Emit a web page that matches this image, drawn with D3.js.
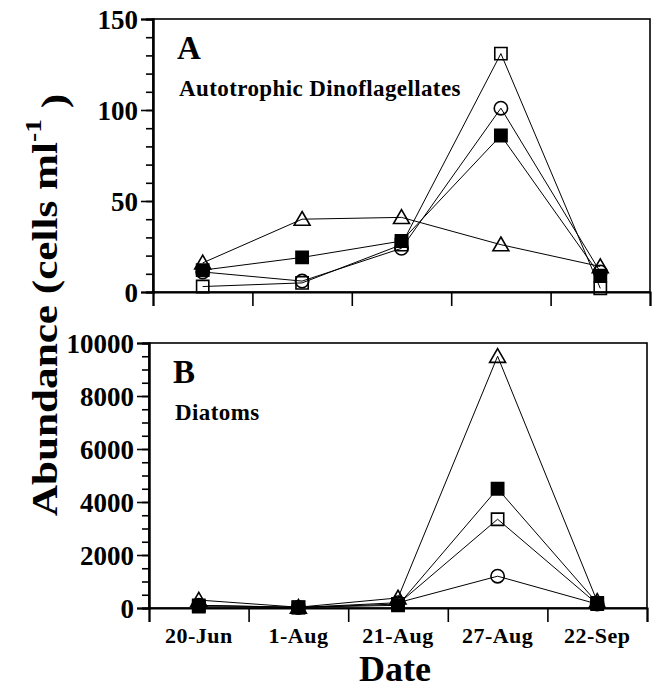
<!DOCTYPE html>
<meta charset="utf-8">
<script src="https://d3js.org/d3.v7.min.js"></script>
<style>
  body { margin: 0; background: #fff; }
  text { font-family: "Liberation Serif", "Times New Roman", serif; font-weight: bold; fill: #000; }
</style>
<div id="my_dataviz"></div>
<script>

// sampling dates
var dates = ["20-Jun", "1-Aug", "21-Aug", "27-Aug", "22-Sep"];

// A: autotrophic dinoflagellates (cells ml-1)
var dinoTriangle   = [16, 40, 41, 26, 14];
var dinoFilledSq   = [12, 19, 28, 86, 9];
var dinoCircle     = [11, 6, 24, 101, 11];
var dinoOpenSq     = [3, 5, 26, 131, 2];

// B: diatoms (cells ml-1)
var diaTriangle    = [300, 30, 380, 9500, 250];
var diaFilledSq    = [100, 30, 100, 4500, 190];
var diaCircle      = [100, 20, 200, 1200, 150];
var diaOpenSq      = [50, 20, 150, 3350, 150];

// tick values
var ticksA = [0, 50, 100, 150];
var minorA = d3.range(0, 151, 10);
var ticksB = [0, 2000, 4000, 6000, 8000, 10000];
var minorB = d3.range(0, 10001, 500);

var svg = d3.select("#my_dataviz")
  .append("svg")
    .attr("width", 658)
    .attr("height", 688);

// one panel = frame, axes, four series
function panel(p) {
  var x = d3.scaleBand().domain(dates).range([p.left, p.right]);
  var xb = d3.scaleLinear().domain([0, dates.length]).range([p.left, p.right]);
  var y = d3.scaleLinear().domain([0, p.max]).range([p.bottom, p.top]);

  var g = svg.append("g");

  // frame
  g.append("rect")
    .attr("x", p.left).attr("y", p.top)
    .attr("width", p.right - p.left).attr("height", p.bottom - p.top)
    .attr("fill", "none").attr("stroke", "#000").attr("stroke-width", 1.6);

  // y axis: major + minor ticks
  var ya = g.append("g")
    .attr("transform", "translate(" + p.left + ",0)")
    .call(d3.axisLeft(y).tickValues(p.ticks).tickSize(12).tickPadding(3).tickFormat(d3.format("d")));
  ya.selectAll("text").style("font-size", "27px").attr("dy", "0.36em");
  g.append("g")
    .attr("transform", "translate(" + p.left + ",0)")
    .call(d3.axisLeft(y).tickValues(p.minor).tickSize(7).tickFormat(""));

  // x axis: ticks on band boundaries
  g.append("g")
    .attr("transform", "translate(0," + p.bottom + ")")
    .call(d3.axisBottom(xb).ticks(dates.length).tickSize(14).tickFormat(""));

  if (p.labels) {
    var xa = g.append("g")
      .attr("transform", "translate(0," + p.bottom + ")")
      .call(d3.axisBottom(x).tickSize(0).tickPadding(19));
    xa.select(".domain").remove();
    xa.selectAll("text").style("font-size", "22px").style("letter-spacing", "0.5px");
  }

  g.selectAll(".domain").attr("stroke-width", 2);
  g.selectAll(".tick line").attr("stroke-width", 1.6);

  // panel letter and name
  g.append("text").attr("x", p.left + 24).attr("y", p.top + 40)
    .style("font-size", "33px").text(p.letter);
  g.append("text").attr("x", p.left + 26).attr("y", p.top + 77)
    .style("font-size", "23px").style("letter-spacing", "0.4px").text(p.name);

  var line = d3.line()
    .x(function(d, i) { return x(dates[i]) + x.bandwidth() / 2; })
    .y(function(d) { return y(d); });

  p.series.forEach(function(s) {
    g.append("path")
      .datum(s.values)
      .attr("fill", "none")
      .attr("stroke", "#000")
      .attr("stroke-width", 1)
      .attr("d", line);
  });

  p.series.forEach(function(s) {
    var sym = s.shape === "circle" ? d3.symbolCircle
            : s.shape === "triangle" ? d3.symbolTriangle : d3.symbolSquare;
    var size = s.shape === "circle" ? 140 : s.shape === "triangle" ? 110 : 150;
    g.selectAll(null)
      .data(s.values)
      .enter()
      .append("path")
        .attr("transform", function(d, i) {
          var dy = s.shape === "triangle" ? 1.5 : 0;
          return "translate(" + (x(dates[i]) + x.bandwidth() / 2) + "," + (y(d) + dy) + ")";
        })
        .attr("d", d3.symbol().type(sym).size(size))
        .attr("fill", s.filled ? "#000" : "none")
        .attr("stroke", "#000")
        .attr("stroke-width", 1.6);
  });
}

panel({
  left: 153, right: 650, top: 19, bottom: 292, max: 150,
  ticks: ticksA, minor: minorA, labels: false,
  letter: "A", name: "Autotrophic Dinoflagellates",
  series: [
    {values: dinoTriangle, shape: "triangle", filled: false},
    {values: dinoCircle, shape: "circle", filled: false},
    {values: dinoFilledSq, shape: "square", filled: true},
    {values: dinoOpenSq, shape: "square", filled: false}
  ]
});

panel({
  left: 149, right: 647, top: 343, bottom: 608, max: 10000,
  ticks: ticksB, minor: minorB, labels: true,
  letter: "B", name: "Diatoms",
  series: [
    {values: diaTriangle, shape: "triangle", filled: false},
    {values: diaCircle, shape: "circle", filled: false},
    {values: diaOpenSq, shape: "square", filled: false},
    {values: diaFilledSq, shape: "square", filled: true}
  ]
});

// axis titles
svg.append("text")
  .attr("x", 395).attr("y", 681)
  .attr("text-anchor", "middle")
  .style("font-size", "36px")
  .text("Date");

// y title is drawn a bit stretched along its length, as in the scan
var yt = svg.append("text")
  .attr("transform", "translate(57,305) rotate(-90) scale(1.2,1)")
  .attr("text-anchor", "middle")
  .style("font-size", "36px");
yt.append("tspan").text("Abundance (cells ml");
yt.append("tspan").attr("dy", "-0.7em").style("font-size", "23px").text("-1");
yt.append("tspan").attr("dy", "0.7em").text(" )");

</script>
